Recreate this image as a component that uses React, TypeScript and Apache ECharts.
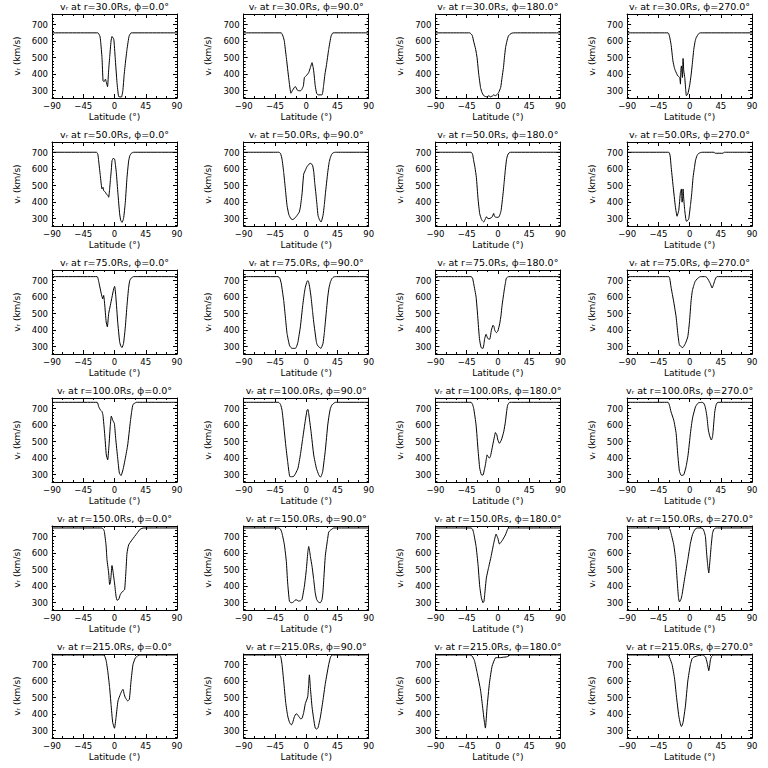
import React, { useEffect, useRef } from 'react';
import * as echarts from 'echarts';

const radii = [30, 50, 75, 100, 150, 215];
const phis = [0, 90, 180, 270];
const yMin = 256;
const yMax = 764;
const xTickStep = 45;

const r30p0 = [[-90,650],[-24,650],[-21,630],[-20,600],[-18,500],[-16.5,360],[-15,355],[-13,370],[-12,355],[-10,325],[-8.5,420],[-7,500],[-5,600],[-3.6,628],[-1,610],[1,500],[3.6,350],[6,265],[10,262],[12,300],[14,400],[16,480],[18,550],[21,630],[24,650],[90,650]];
const r30p90 = [[-90,650],[-36,650],[-33,625],[-31.5,600],[-28.6,500],[-25,370],[-22,285],[-20,300],[-17,320],[-15.6,325],[-13,305],[-11,300],[-8,300],[-6,310],[-4,330],[-2.6,380],[0,390],[3.6,410],[6,440],[8.4,470],[10.8,420],[13,330],[15,285],[17,275],[22.8,275],[25,330],[27,400],[29,450],[32.4,550],[35.8,630],[38.6,650],[90,650]];
const r30p180 = [[-90,650],[-40.6,650],[-37,635],[-35,600],[-32,550],[-30,500],[-27.6,400],[-25,320],[-23,290],[-20.4,270],[-18,265],[-15.6,262],[-13,270],[-11,263],[-8,268],[-6,275],[-3.6,270],[-1,278],[1.2,290],[4,320],[6,380],[8,440],[9.4,500],[11,560],[13,600],[15,630],[17,640],[20,648],[22.8,650],[90,650]];
const r30p270 = [[-90,650],[-31,650],[-29,630],[-26.7,580],[-24,480],[-22,440],[-20.4,420],[-17,390],[-14.2,380],[-13.2,340],[-12.5,430],[-11.8,450],[-10.8,400],[-10.3,380],[-9.4,495],[-8.4,420],[-7,380],[-5.5,300],[-4.6,270],[-2.6,280],[0,330],[2,390],[3.6,450],[6,550],[8,600],[9.4,620],[13,645],[15.6,650],[90,650]];

const r50p0 = [[-90,702],[-26,702],[-24,690],[-22.8,650],[-20.4,560],[-18,480],[-16.5,490],[-15.6,470],[-13,460],[-11.8,450],[-9.5,440],[-8.4,430],[-7,480],[-6,530],[-4.5,600],[-3.6,650],[-2,665],[0.2,660],[1.5,620],[2.6,580],[5,450],[7.4,330],[9,290],[10.8,278],[13,300],[15.6,400],[18,550],[20.4,650],[22,680],[24,695],[27.6,702],[90,702]];
const r50p90 = [[-90,702],[-39.6,702],[-37,695],[-34.8,660],[-32.4,580],[-30,480],[-27.6,380],[-25,325],[-22,300],[-19.4,295],[-16,305],[-13.2,320],[-10,340],[-8.4,370],[-6,450],[-3.6,570],[-1,595],[1.2,615],[4,630],[6,635],[8,630],[9.4,620],[11,580],[12.2,520],[14,450],[15.6,380],[17,320],[19,295],[21.4,280],[24.2,320],[26,380],[27.6,450],[31,580],[33,640],[34.8,670],[37,692],[39.6,700],[42,702],[90,702]];
const r50p180 = [[-90,702],[-38.6,702],[-36.5,690],[-34.8,650],[-33,610],[-31,550],[-28.6,420],[-26.2,330],[-24,300],[-22.8,290],[-20.4,280],[-18,300],[-16.5,312],[-15.6,305],[-13,300],[-10,305],[-8.4,310],[-6,332],[-5,315],[-3.6,310],[-1,308],[1.2,310],[3,325],[4.6,350],[7.4,450],[9,520],[10.8,600],[12.5,660],[14,685],[16,698],[18,702],[90,702]];
const r50p270 = [[-90,702],[-30,702],[-28,680],[-26.7,620],[-23.8,500],[-20.4,370],[-18,315],[-17,315],[-15.6,350],[-13.2,460],[-11.8,480],[-10.8,400],[-10,430],[-9.4,480],[-8.4,420],[-7,350],[-5.5,300],[-4.6,285],[-2.5,290],[-1.2,300],[1.2,380],[3,450],[5,550],[7,610],[8.4,650],[10.5,680],[13,695],[18,702],[35,702],[37,696],[48,696],[50,702],[90,702]];

const r75p0 = [[-90,724],[-25,724],[-23,700],[-22,680],[-19,620],[-17,590],[-15.6,610],[-14.2,560],[-12,450],[-10.3,420],[-8.4,500],[-6,550],[-3.6,600],[-1.2,650],[0.2,665],[2,600],[4.6,450],[7.4,330],[9,305],[10.8,295],[13,320],[15.6,420],[18,550],[20.4,660],[22,700],[24,715],[27.6,724],[90,724]];
const r75p90 = [[-90,724],[-40.6,724],[-38,715],[-35.8,680],[-32.4,580],[-30,480],[-27.6,380],[-24.2,310],[-22,295],[-20.4,290],[-15.6,290],[-13.5,305],[-11.8,330],[-8.4,420],[-5,550],[-2.5,630],[-1.2,660],[1.2,695],[2.5,700],[3.6,690],[5,660],[7,600],[9,520],[10.8,450],[14.6,330],[16,310],[18,300],[21.4,290],[22.5,300],[24.2,320],[26,380],[27.6,450],[31,600],[33,660],[34.8,690],[37,712],[39.6,722],[42,724],[90,724]];
const r75p180 = [[-90,724],[-38.6,724],[-36.5,715],[-34.8,680],[-31.4,600],[-29,480],[-26.6,350],[-24.2,295],[-21.4,290],[-20,320],[-19,350],[-17,375],[-15.6,360],[-14.6,350],[-11.8,345],[-10.5,370],[-9.4,400],[-7,430],[-5.5,420],[-4.6,400],[-2.2,385],[0,395],[2.6,440],[4.5,490],[6,550],[9.4,650],[11,690],[12.2,715],[15.6,724],[90,724]];
const r75p270 = [[-90,724],[-30,724],[-28.5,710],[-26.7,660],[-22.8,570],[-19.4,480],[-17,380],[-15.5,330],[-14.6,310],[-12,300],[-9.8,295],[-8,305],[-6,320],[-2.6,360],[-0.2,450],[2.2,580],[4,640],[6,670],[8,695],[10.8,710],[13,718],[15.6,724],[22.8,724],[25,718],[27.6,700],[30,680],[32.4,655],[34,670],[36.2,700],[38,718],[39.6,724],[90,724]];

const r100p0 = [[-90,738],[-25,738],[-22.8,712],[-20.4,692],[-18,682],[-16.6,660],[-14.2,550],[-11.8,420],[-9.8,390],[-7.9,480],[-6,600],[-4.6,655],[-2.6,630],[-0.2,610],[1.7,520],[4.6,400],[7,310],[9.4,295],[12.2,330],[15.6,400],[19,480],[22.8,620],[25,690],[26.6,725],[29,732],[31.4,738],[90,738]];
const r100p90 = [[-90,738],[-40,738],[-37,725],[-34.8,690],[-32.4,600],[-29.5,480],[-26.7,380],[-23.8,290],[-21,288],[-18,290],[-15,310],[-11.8,340],[-8.4,420],[-5,520],[-1.2,630],[1.2,690],[2.5,695],[3.6,670],[7,560],[10.8,420],[14.6,340],[18,300],[20.4,285],[22,295],[23.8,320],[27.6,450],[31,600],[33,660],[34.8,700],[37,722],[39.6,732],[42,738],[90,738]];
const r100p180 = [[-90,738],[-38.6,738],[-36.5,725],[-34.8,700],[-31.4,600],[-28.6,450],[-26.2,340],[-23.8,300],[-21.4,298],[-19.5,330],[-18,360],[-16.5,400],[-15.6,420],[-14,410],[-12.5,400],[-10.8,410],[-7.4,480],[-5,530],[-3.6,555],[-1.5,540],[0,510],[2.2,490],[5,510],[8.4,560],[10.8,620],[12.5,680],[14,720],[17,738],[90,738]];
const r100p270 = [[-90,738],[-31,738],[-29,720],[-26.7,680],[-22.8,630],[-19.4,550],[-17,420],[-14.6,320],[-11.8,295],[-8.4,300],[-5,350],[-2.2,420],[1.2,550],[3,610],[4.6,650],[8.4,710],[11,728],[13,735],[18,738],[20,734],[21.8,720],[23.5,690],[25,650],[27,570],[28.6,540],[30.5,515],[31.4,510],[33,530],[33.8,560],[36.2,680],[38,720],[39.6,735],[42,738],[90,738]];

const r150p0 = [[-90,752],[-18,752],[-16,745],[-14.6,730],[-12.2,650],[-10.8,560],[-8.4,480],[-7,410],[-6,420],[-5,460],[-3.6,525],[-2.2,490],[0,420],[2.2,340],[3.6,315],[6,320],[8.4,350],[10,360],[12.2,370],[14.6,380],[16.6,500],[18,600],[20.4,650],[25.2,680],[32.4,720],[37,745],[42,752],[90,752]];
const r150p90 = [[-90,752],[-39.6,752],[-37,745],[-34.8,720],[-31.4,650],[-28.6,550],[-26.7,420],[-24.2,310],[-22,300],[-20.4,300],[-17,310],[-15,318],[-13.2,316],[-11,310],[-8,312],[-6,320],[-2.6,400],[0.2,500],[2.2,600],[3.6,640],[5,610],[6,580],[8.4,520],[10.8,440],[13,360],[15,320],[16.6,310],[18,302],[20.4,300],[22.8,320],[24,360],[25,420],[27.6,587],[31,690],[32.4,727],[34.8,738],[37,745],[39.6,752],[90,752]];
const r150p180 = [[-90,752],[-38.6,752],[-36.5,745],[-34.8,720],[-31.4,640],[-28.6,530],[-26.2,400],[-23.8,330],[-21.4,300],[-20,310],[-19,350],[-16.6,450],[-13,520],[-9.8,580],[-6,660],[-2.6,715],[-1,700],[0,690],[2.2,655],[6,675],[10.8,710],[14.6,750],[18,752],[90,752]];
const r150p270 = [[-90,752],[-30,752],[-28.5,745],[-26.7,720],[-22.8,650],[-20,560],[-18,440],[-16,330],[-14.6,305],[-12.5,320],[-10.8,350],[-7,450],[-2.6,560],[1.2,660],[4,710],[6,730],[8,745],[10.8,752],[16,752],[19,748],[21,730],[22.8,700],[24.5,600],[26,530],[27.6,480],[29,540],[31,640],[33,720],[35,745],[38,752],[90,752]];

const r215p0 = [[-90,758],[-15.6,758],[-13.5,745],[-11.8,720],[-9.4,650],[-7,560],[-5,460],[-2.6,350],[0,315],[2.2,380],[5,480],[8.4,520],[10.5,540],[12.2,550],[14,520],[15.6,500],[19,480],[21.4,490],[23.8,600],[26.6,700],[30,740],[33,752],[37,758],[90,758]];
const r215p90 = [[-90,758],[-38.2,758],[-36.5,745],[-34.8,700],[-32.4,600],[-29.5,470],[-26.7,390],[-24,350],[-21.4,335],[-19.4,350],[-17,385],[-14.6,402],[-13,400],[-10.5,385],[-8,372],[-6,375],[-3.6,410],[-1.2,465],[2.2,505],[3.5,580],[4.6,638],[6,560],[8.4,444],[10.8,370],[13,316],[15,310],[17,318],[20.4,382],[24,480],[27.6,587],[32.4,700],[35,745],[37.2,758],[90,758]];
const r215p180 = [[-90,758],[-40.6,758],[-37.2,752],[-33.8,725],[-30,653],[-25,546],[-22,443],[-19.4,351],[-18,316],[-15.6,443],[-12.2,587],[-8.4,690],[-3.6,741],[-1.2,742],[3.6,742],[8.4,745],[12,746],[15.6,752],[18,758],[90,758]];
const r215p270 = [[-90,758],[-32.4,758],[-30,752],[-28.6,740],[-25.2,700],[-21.8,620],[-19,510],[-15.6,390],[-13.5,345],[-11.8,325],[-11,330],[-9.4,350],[-6,450],[-2.6,600],[1.2,700],[3.5,735],[6,745],[13,755],[18,758],[20,756],[23,745],[25,715],[26.5,685],[27.6,663],[28.6,685],[30,730],[32,752],[34.8,758],[90,758]];

const panels = [
  [r30p0, r30p90, r30p180, r30p270],
  [r50p0, r50p90, r50p180, r50p270],
  [r75p0, r75p90, r75p180, r75p270],
  [r100p0, r100p90, r100p180, r100p270],
  [r150p0, r150p90, r150p180, r150p270],
  [r215p0, r215p90, r215p180, r215p270],
];

const FONT = 'DejaVu Sans';
const GL = 52, GT = 14, GW = 125, GH = 84, DX = 191.7, DY = 128;

function buildOption() {
  const grid: any[] = [];
  const xAxis: any[] = [];
  const yAxis: any[] = [];
  const series: any[] = [];
  const graphic: any[] = [];
  const lineStyle = { color: '#000', width: 1 };
  const label = { color: '#000', fontFamily: FONT, fontSize: 8.5 };
  const axisLine = { show: true, onZero: false, lineStyle };
  const fmtX = (v: number) => (v < 0 ? '−' + Math.abs(v) : String(v));
  panels.forEach((row, r) => {
    row.forEach((data, c) => {
      const i = r * 4 + c;
      const left = GL + c * DX;
      const top = GT + r * DY;
      grid.push({ left, top, width: GW, height: GH });
      xAxis.push({
        type: 'value', gridIndex: i, min: -90, max: 90, interval: xTickStep, position: 'bottom',
        name: 'Latitude (°)', nameLocation: 'middle', nameGap: 14,
        nameTextStyle: { ...label, fontSize: 9 },
        axisLine,
        axisTick: { inside: true, length: 4, lineStyle },
        minorTick: { show: true, splitNumber: 3, length: 2, lineStyle },
        axisLabel: { ...label, margin: 3, formatter: fmtX },
        splitLine: { show: false },
      });
      xAxis.push({
        type: 'value', gridIndex: i, min: -90, max: 90, interval: xTickStep, position: 'top',
        axisLine,
        axisTick: { inside: true, length: 4, lineStyle },
        minorTick: { show: true, splitNumber: 3, length: 2, lineStyle },
        axisLabel: { show: false },
        splitLine: { show: false },
      });
      yAxis.push({
        type: 'value', gridIndex: i, min: yMin, max: yMax, splitNumber: 5, position: 'left',
        name: 'vᵣ (km/s)', nameLocation: 'middle', nameGap: 31,
        nameTextStyle: { ...label, fontSize: 9 },
        axisLine,
        axisTick: { show: true, inside: true, length: 4, lineStyle },
        minorTick: { show: true, splitNumber: 5, length: 2, lineStyle },
        axisLabel: { ...label, margin: 4, showMinLabel: false, showMaxLabel: false },
        splitLine: { show: false },
      });
      yAxis.push({
        type: 'value', gridIndex: i, min: yMin, max: yMax, splitNumber: 5, position: 'right',
        axisLine,
        axisTick: { show: true, inside: true, length: 4, lineStyle },
        minorTick: { show: true, splitNumber: 5, length: 2, lineStyle },
        axisLabel: { show: false },
        splitLine: { show: false },
      });
      series.push({
        type: 'line', xAxisIndex: 2 * i, yAxisIndex: 2 * i, data,
        showSymbol: false, symbol: 'none', lineStyle, smooth: 0.15, clip: true,
      });
      graphic.push({
        type: 'text', x: left + GW / 2, y: top - 8,
        style: {
          text: `vᵣ at r=${radii[r].toFixed(1)}Rs, {p|ϕ}=${phis[c].toFixed(1)}°`,
          rich: { p: { fontFamily: 'Noto Sans', fontSize: 9.5, fill: '#000' } },
          align: 'center', verticalAlign: 'middle',
          fontFamily: FONT, fontSize: 9.5, fill: '#000',
        },
      });
    });
  });
  return {
    animation: false,
    backgroundColor: '#fff',
    grid, xAxis, yAxis, series, graphic,
  };
}

export default function App() {
  const ref = useRef<HTMLDivElement>(null);
  useEffect(() => {
    if (!ref.current) return;
    const chart = echarts.init(ref.current, null, { renderer: 'svg' });
    chart.setOption(buildOption() as any);
    return () => chart.dispose();
  }, []);
  return (
    <div
      ref={ref}
      style={{ position: 'absolute', left: 0, top: 0, width: 768, height: 768, background: '#fff' }}
    />
  );
}
